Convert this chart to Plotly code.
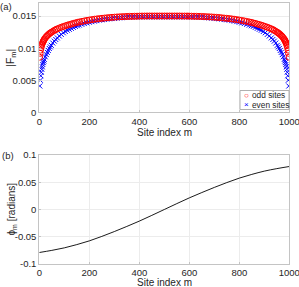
import plotly.graph_objects as go

# ---------------- data ----------------
odd_sites = [1, 3, 5, 7, 9, 11, 13, 15, 17, 19, 21, 25, 29, 33, 37, 41, 45, 49, 55, 61, 67, 73,
             81, 89, 97, 105, 113, 121, 129, 137, 145, 153, 161, 171, 181, 191, 201, 211, 221, 231,
             241, 251, 261, 271, 281, 291, 301, 311, 321, 331, 341, 351, 361, 371, 381, 391, 401,
             411, 421, 431, 441, 451, 461, 471, 481, 491, 501, 511, 521, 531, 541, 551, 561, 571, 581, 591,
             599, 609, 619, 629, 639, 649, 659, 669, 679, 689, 699, 709, 719, 729, 739, 749, 759, 769,
             779, 789, 799, 809, 819, 829, 839, 847, 855, 863, 871, 879, 887, 895, 903, 911, 919, 927,
             933, 939, 945, 951, 955, 959, 963, 967, 971, 975, 979, 981, 983, 985, 987, 989, 991, 993,
             995, 997, 999]
odd_F = [0.00860, 0.00920, 0.00970, 0.01010, 0.01040, 0.01065, 0.01085, 0.01100, 0.01115, 0.01130,
         0.01145, 0.01165, 0.01185, 0.01200, 0.01215, 0.01228, 0.01240, 0.01250, 0.01265, 0.01280,
         0.01292, 0.01303, 0.01316, 0.01328, 0.01339, 0.01350, 0.01360, 0.01369, 0.01378, 0.01387,
         0.01395, 0.01403, 0.01410, 0.01418, 0.01426, 0.01433, 0.01440, 0.01446, 0.01452, 0.01457,
         0.01462, 0.01466, 0.01470, 0.01474, 0.01478, 0.01481, 0.01484, 0.01487, 0.01489, 0.01491,
         0.01493, 0.01495, 0.01496, 0.01497, 0.01498, 0.01499, 0.01500,
         0.01501, 0.01501, 0.01502, 0.01502, 0.01502, 0.01502, 0.01502, 0.01502, 0.01502, 0.01502,
         0.01502, 0.01502, 0.01502, 0.01502, 0.01502, 0.01502, 0.01501, 0.01501, 0.01501,
         0.01500, 0.01499, 0.01498, 0.01497, 0.01496, 0.01495, 0.01493, 0.01491, 0.01489, 0.01487,
         0.01484, 0.01481, 0.01478, 0.01474, 0.01470, 0.01466, 0.01462, 0.01457, 0.01452, 0.01446,
         0.01440, 0.01433, 0.01426, 0.01418, 0.01410, 0.01403, 0.01395, 0.01387, 0.01378, 0.01369,
         0.01360, 0.01350, 0.01339, 0.01328, 0.01316, 0.01303, 0.01292, 0.01280, 0.01265, 0.01250,
         0.01240, 0.01228, 0.01215, 0.01200, 0.01185, 0.01165, 0.01145, 0.01130, 0.01115, 0.01100,
         0.01085, 0.01065, 0.01040, 0.01010, 0.00970, 0.00920, 0.00860]

even_sites = [2, 4, 6, 8, 10, 12, 14, 16, 18, 20, 24, 28, 32, 36, 40, 44, 48, 54, 60, 66, 72,
              80, 88, 96, 104, 112, 120, 128, 136, 144, 152, 160, 170, 180, 190, 200, 210, 220, 230,
              240, 250, 260, 270, 280, 290, 300, 310, 320, 330, 340, 350, 360, 370, 380, 390, 400,
              410, 420, 430, 440, 450, 460, 470, 480, 490, 500, 510, 520, 530, 540, 550, 560, 570, 580, 590,
              600, 610, 620, 630, 640, 650, 660, 670, 680, 690, 700, 710, 720, 730, 740, 750, 760, 770,
              780, 790, 800, 810, 820, 830, 840, 848, 856, 864, 872, 880, 888, 896, 904, 912, 920,
              928, 934, 940, 946, 952, 956, 960, 964, 968, 972, 976, 980, 982, 984, 986, 988, 990,
              992, 994, 996, 998]
even_F = [0.00410, 0.00500, 0.00570, 0.00625, 0.00670, 0.00710, 0.00745, 0.00775, 0.00800, 0.00825,
          0.00865, 0.00900, 0.00935, 0.00965, 0.00995, 0.01020, 0.01045, 0.01080, 0.01110, 0.01135,
          0.01160, 0.01190, 0.01215, 0.01240, 0.01260, 0.01280, 0.01295, 0.01310, 0.01325, 0.01340,
          0.01350, 0.01360, 0.01372, 0.01384, 0.01395, 0.01405, 0.01414, 0.01422, 0.01430, 0.01437,
          0.01443, 0.01448, 0.01453, 0.01458, 0.01462, 0.01466, 0.01470, 0.01473, 0.01476, 0.01479,
          0.01481, 0.01483, 0.01485, 0.01486, 0.01487, 0.01488,
          0.01489, 0.01489, 0.01489, 0.01489, 0.01489, 0.01489, 0.01489, 0.01489, 0.01489, 0.01489,
          0.01489, 0.01489, 0.01489, 0.01489, 0.01489, 0.01489, 0.01489, 0.01489, 0.01489,
          0.01488, 0.01487, 0.01486, 0.01485, 0.01483, 0.01481, 0.01479, 0.01476, 0.01473, 0.01470,
          0.01466, 0.01462, 0.01458, 0.01453, 0.01448, 0.01443, 0.01437, 0.01430, 0.01422, 0.01414,
          0.01405, 0.01395, 0.01384, 0.01372, 0.01360, 0.01350, 0.01340, 0.01325, 0.01310, 0.01295,
          0.01280, 0.01260, 0.01240, 0.01215, 0.01190, 0.01160, 0.01135, 0.01110, 0.01080, 0.01045,
          0.01020, 0.00995, 0.00965, 0.00935, 0.00900, 0.00865, 0.00825, 0.00800, 0.00775, 0.00745,
          0.00710, 0.00670, 0.00625, 0.00570, 0.00500, 0.00410]

phase_sites = [0, 50, 100, 150, 200, 250, 300, 350, 400, 450, 500,
               550, 600, 650, 700, 750, 800, 850, 900, 950, 1000]
phase_phi = [-0.0789, -0.0750, -0.0704, -0.0644, -0.0576, -0.0494, -0.0405, -0.0311, -0.0213, -0.0108, 0.0,
             0.0108, 0.0213, 0.0311, 0.0405, 0.0494, 0.0576, 0.0644, 0.0704, 0.0750, 0.0789]

x_ticks = [0, 200, 400, 600, 800, 1000]
x_ticktext = ["0", "200", "400", "600", "800", "1000"]
ya_ticks = [0, 0.005, 0.01, 0.015]
ya_ticktext = ["0", "0.005", "0.01", "0.015"]
yb_ticks = [-0.1, -0.05, 0, 0.05, 0.1]
yb_ticktext = ["-0.1", "-0.05", "0", "0.05", "0.1"]

# ---------------- figure ----------------
W, H = 299, 287
FONT = "Liberation Sans, Arial, Helvetica, sans-serif"
TXT = "#262626"
GRID = "#ececec"
AXC = "#c4c4c4"


def px_x(p):
    return p / W


def px_y(p):
    return 1 - p / H


fig = go.Figure()

fig.add_trace(go.Scatter(
    x=even_sites, y=even_F, mode="markers", name="even sites",
    marker=dict(symbol="x-thin-open", size=5, color="#0000ff",
                line=dict(color="#0000ff", width=1)),
    xaxis="x", yaxis="y"))
fig.add_trace(go.Scatter(
    x=odd_sites, y=odd_F, mode="markers", name="odd sites",
    marker=dict(symbol="circle-open", size=6, color="#ff0000",
                line=dict(color="#ff0000", width=1)),
    xaxis="x", yaxis="y"))
fig.add_trace(go.Scatter(
    x=phase_sites, y=phase_phi, mode="lines", line=dict(color="#000000", width=0.9, shape="spline"),
    xaxis="x2", yaxis="y2"))

xd = [px_x(39.3), px_x(289.3)]
common_x = dict(range=[0, 1000], tickvals=x_ticks, ticktext=x_ticktext, showgrid=True,
                gridcolor=GRID, gridwidth=1, zeroline=False, showline=True, linecolor=AXC,
                linewidth=1, mirror=True, ticks="inside", ticklen=2, tickcolor=AXC,
                tickfont=dict(family=FONT, size=9.5, color=TXT), domain=xd,
                automargin=False, ticklabeloverflow="allow")
common_y = dict(showgrid=True, gridcolor=GRID, gridwidth=1, zeroline=False, showline=True,
                linecolor=AXC, linewidth=1, mirror=True, ticks="inside", ticklen=2,
                tickcolor=AXC, tickfont=dict(family=FONT, size=9.5, color=TXT),
                automargin=False, ticklabeloverflow="allow")

fig.update_layout(
    width=W, height=H, margin=dict(l=0, r=0, t=0, b=0, pad=0, autoexpand=False),
    paper_bgcolor="white", plot_bgcolor="white", showlegend=False,
    font=dict(family=FONT, color=TXT),
    xaxis=dict(**common_x, anchor="y"),
    yaxis=dict(**common_y, range=[0, 0.017], tickvals=ya_ticks, ticktext=ya_ticktext,
               domain=[px_y(112.3), px_y(3.3)], anchor="x"),
    xaxis2=dict(**common_x, anchor="y2"),
    yaxis2=dict(**common_y, range=[-0.1, 0.1], tickvals=yb_ticks, ticktext=yb_ticktext,
                domain=[px_y(264), px_y(155)], anchor="x2"),
)

ann = []
def add_text(text, x, y, size=10, angle=0, xanchor="center", color=TXT):
    ann.append(dict(text=text, x=px_x(x), y=px_y(y), xref="paper", yref="paper",
                    showarrow=False, textangle=angle, xanchor=xanchor, yanchor="middle",
                    font=dict(family=FONT, size=size, color=color)))

add_text("(a)", 6, 6, size=9.5)
add_text("(b)", 7.5, 155.5, size=9.5)
add_text("Site index m", 164.3, 132, size=10)
add_text("Site index m", 164.3, 282.5, size=10)
add_text("|F<sub>m</sub>|", 11, 57.8, size=10.5, angle=-90)
add_text("ϕ<sub>m</sub> [radians]", 11, 209.5, size=10, angle=-90)

fig.add_shape(type="rect", xref="paper", yref="paper",
              x0=px_x(240), x1=px_x(289), y0=px_y(109.5), y1=px_y(90.5),
              line=dict(color="#b0b0b0", width=1), fillcolor="white", layer="above")
add_text("○", 246, 95.2, size=8, color="#ff0000")
add_text("×", 246, 104.6, size=8, color="#0000ff")
add_text("odd sites", 249.5, 95.2, size=8.3, xanchor="left")
add_text("even sites", 249.5, 104.6, size=8.3, xanchor="left")
fig.update_layout(annotations=ann)

fig.write_html("out.html", config={"displayModeBar": False},
               post_script="document.body.style.margin='0';document.body.style.overflow='hidden';")
